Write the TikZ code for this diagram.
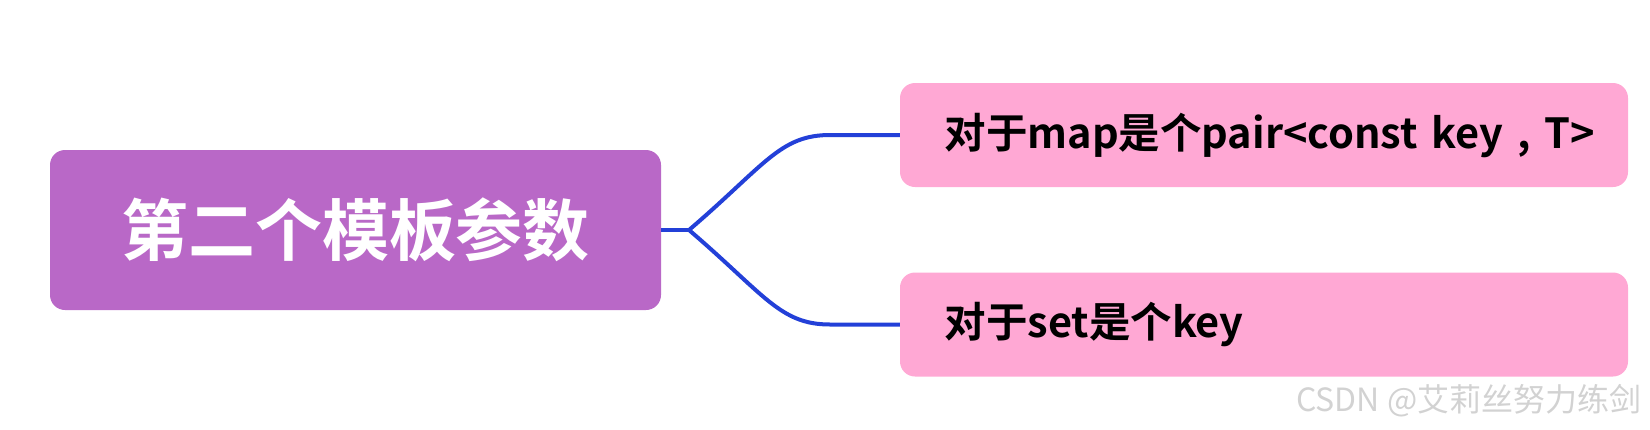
\documentclass[tikz,border=0pt]{standalone}
\usepackage{fontspec}
\setmainfont{Noto Sans CJK SC}[BoldFont={Noto Sans CJK SC Bold}]
\definecolor{rootc}{HTML}{B968C7}
\definecolor{leafc}{HTML}{FFA8D4}
\definecolor{linec}{HTML}{2340D8}
\definecolor{wmc}{HTML}{D2D2D2}
\begin{document}
\begin{tikzpicture}[x=1pt,y=-1pt,
  rootbox/.style={fill=rootc,rounded corners=15pt,minimum width=611pt,minimum height=160pt,inner sep=0pt,
    font=\fontsize{67}{75}\selectfont\bfseries,text=white},
  leafbox/.style={fill=leafc,rounded corners=15pt,minimum width=728pt,minimum height=104pt,inner sep=0pt,
    text width=683pt,align=left,font=\fontsize{41.5}{48}\selectfont\bfseries,text=black},
  conn/.style={draw=linec,line width=4pt}]
\useasboundingbox (0,0) rectangle (1650,429);
\node[rootbox] (root) at (355.5,230) {第二个模板参数};
\node[leafbox] (a) at (1264,135) {\hspace*{22pt}对于map是个pair<const key , T>};
\node[leafbox] (b) at (1264,324.5) {\hspace*{22pt}对于set是个key};
\coordinate (j) at (689,230);
\draw[conn] (root.east) -- (j);
\draw[conn] (j) .. controls (765,165) and (780,135) .. (830,135) -- (a.west);
\draw[conn] (j) .. controls (765,295) and (780,324.5) .. (830,324.5) -- (b.west);
\node[anchor=west,text=wmc,font=\fontsize{32}{36}\selectfont,inner sep=0pt] (wm) at (1296,401) {CSDN @艾莉丝努力练剑};
\end{tikzpicture}
\end{document}
